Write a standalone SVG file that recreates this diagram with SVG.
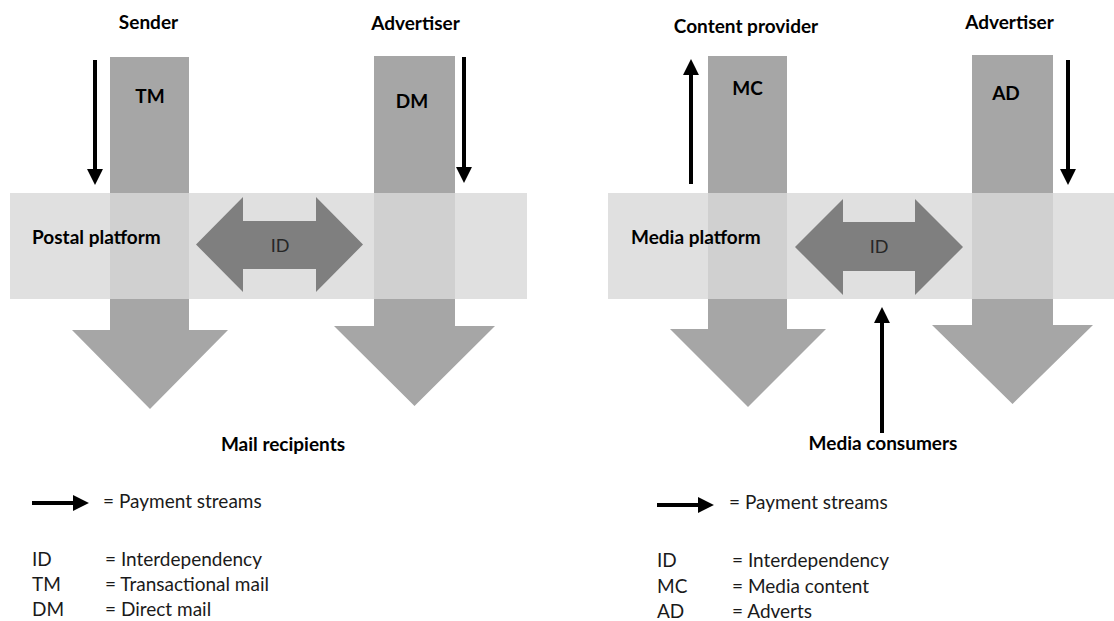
<svg xmlns="http://www.w3.org/2000/svg" width="1114" height="621" viewBox="0 0 1114 621">
<style>
.flow{fill:#a6a6a6}
.band{fill:#d9d9d9;fill-opacity:0.82}
.id{fill:#7f7f7f}
.b{font-family:Lato,"Open Sans","Liberation Sans",sans-serif;font-weight:bold;font-size:19px;fill:#000}
.r{font-family:Lato,"Open Sans","Liberation Sans",sans-serif;font-size:19px;fill:#1a1a1a}
.idt{font-family:Lato,"Open Sans","Liberation Sans",sans-serif;font-size:18px;fill:#262626}
.pay{stroke:#000;stroke-width:4;fill:none}
</style>
<defs>
<marker id="ah" markerUnits="userSpaceOnUse" markerWidth="16" markerHeight="16" viewBox="0 0 15 15" refX="1" refY="7.5" orient="auto">
<path d="M0,0 L15,7.5 L0,15 z" fill="#000"/>
</marker>
</defs>
<rect width="1114" height="621" fill="#fff"/>

<g id="flow-tm"><polygon class="flow" points="110,57 189,57 189,330 228,330 150,409 72,330 110,330"/></g>
<g id="flow-dm"><polygon class="flow" points="374,56 455,56 455,326 495,326 414.5,406 334,326 374,326"/></g>
<g id="flow-mc"><polygon class="flow" points="708,56 787,56 787,329 826,329 748,407 670,329 708,329"/></g>
<g id="flow-ad"><polygon class="flow" points="972,55 1053,55 1053,325 1093,325 1012.5,404 932,325 972,325"/></g>

<g id="postal-platform">
<rect class="band" x="10" y="193" width="517" height="106"/>
<text class="b" x="32" y="244">Postal platform</text>
</g>
<g id="media-platform">
<rect class="band" x="608" y="193" width="506" height="106"/>
<text class="b" x="631" y="244">Media platform</text>
</g>

<g id="id-left">
<polygon class="id" points="196,244.5 243,197 243,221 316,221 316,197 363,244.5 316,292 316,269 243,269 243,292"/>
<text class="idt" x="280" y="252" text-anchor="middle">ID</text>
</g>
<g id="id-right">
<polygon class="id" points="795,247 843,199 843,222 915,222 915,199 963,247 915,295 915,271 843,271 843,295"/>
<text class="idt" x="879" y="253" text-anchor="middle">ID</text>
</g>

<g id="labels-left">
<text class="b" x="148.5" y="29" text-anchor="middle">Sender</text>
<text class="b" x="415.5" y="30" text-anchor="middle">Advertiser</text>
<text class="b" x="150" y="103" text-anchor="middle">TM</text>
<text class="b" x="412" y="108" text-anchor="middle">DM</text>
<text class="b" x="283" y="451" text-anchor="middle">Mail recipients</text>
</g>
<g id="labels-right">
<text class="b" x="746" y="33" text-anchor="middle">Content provider</text>
<text class="b" x="1009.5" y="29" text-anchor="middle">Advertiser</text>
<text class="b" x="747.5" y="95" text-anchor="middle">MC</text>
<text class="b" x="1006" y="100" text-anchor="middle">AD</text>
<text class="b" x="883" y="450" text-anchor="middle">Media consumers</text>
</g>

<g id="connectors">
<line class="pay" x1="95" y1="60" x2="95" y2="170" marker-end="url(#ah)"/>
<line class="pay" x1="464" y1="57" x2="464" y2="168" marker-end="url(#ah)"/>
<line class="pay" x1="691" y1="184" x2="691" y2="74" marker-end="url(#ah)"/>
<line class="pay" x1="1068" y1="60" x2="1068" y2="170" marker-end="url(#ah)"/>
<line class="pay" x1="882" y1="433" x2="882" y2="322" marker-end="url(#ah)"/>
<line class="pay" x1="32" y1="503" x2="74" y2="503" marker-end="url(#ah)"/>
<line class="pay" x1="657" y1="505" x2="699" y2="505" marker-end="url(#ah)"/>
</g>

<g id="legend-left">
<text class="r" x="103" y="508">= Payment streams</text>
<text class="r" x="32" y="566">ID</text>
<text class="r" x="105" y="566">= Interdependency</text>
<text class="r" x="32" y="591">TM</text>
<text class="r" x="105" y="591">= Transactional mail</text>
<text class="r" x="32" y="616">DM</text>
<text class="r" x="105" y="616">= Direct mail</text>
</g>
<g id="legend-right">
<text class="r" x="729" y="509">= Payment streams</text>
<text class="r" x="657" y="567">ID</text>
<text class="r" x="732" y="567">= Interdependency</text>
<text class="r" x="657" y="593">MC</text>
<text class="r" x="732" y="593">= Media content</text>
<text class="r" x="657" y="618">AD</text>
<text class="r" x="732" y="618">= Adverts</text>
</g>
</svg>
